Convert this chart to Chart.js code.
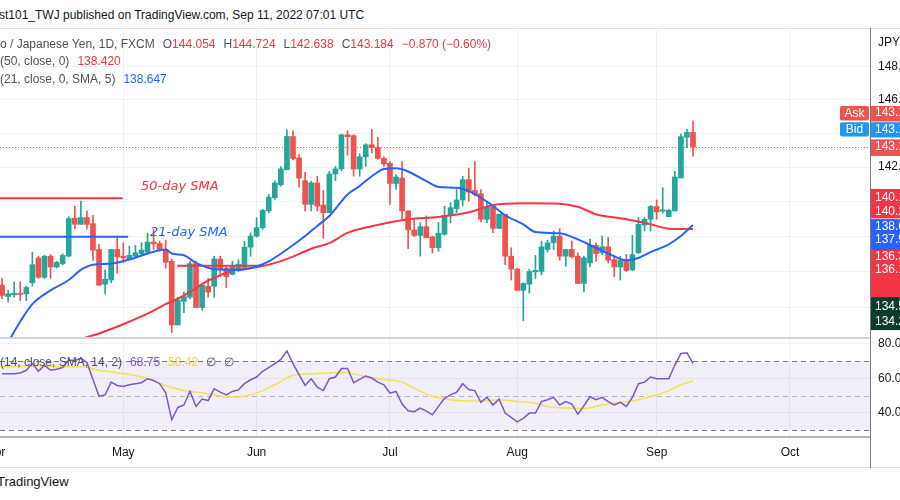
<!DOCTYPE html>
<html>
<head>
<meta charset="utf-8">
<title>USD/JPY 1D</title>
<script src="https://cdn.jsdelivr.net/npm/chart.js@4.4.1/dist/chart.umd.min.js"></script>
<style>
html, body { margin: 0; padding: 0; background: #fff; }
body { position: relative; width: 900px; height: 500px; overflow: hidden; font-family: "Liberation Sans", Arial, sans-serif; }
canvas { position: absolute; left: 0; }
#price { top: 30px; }
#osc { top: 329px; }
.t { position: absolute; white-space: nowrap; font-size: 12px; line-height: 16px; color: #50535e; }
.ln { position: absolute; }
.k { margin-left: 8px; }
.red { color: #f23645; }
.blue { color: #2962ff; }
.purple { color: #7e57c2; }
.yellow { color: #f5d130; }
.note { position: absolute; white-space: nowrap; font-family: "DejaVu Sans", sans-serif; font-size: 13px; line-height: 18px; font-style: italic; }
</style>
</head>
<body>

<canvas id="price" width="900" height="307"></canvas>
<canvas id="osc" width="900" height="140"></canvas>

<div class="t" style="left:-1px;top:7px;color:#131722;font-size:12px">st101_TWJ published on TradingView.com, Sep 11, 2022 07:01 UTC</div>
<div class="ln" style="left:0;top:28px;width:900px;height:1px;background:#e0e3eb"></div>
<div class="ln" style="left:0;top:337px;width:870px;height:2px;background:#d1d4dc"></div>
<div class="ln" style="left:0;top:436px;width:870px;height:2px;background:#b2b5be"></div>
<div class="ln" style="left:0;top:467px;width:900px;height:1px;background:#e0e3eb"></div>
<div class="ln" style="left:870px;top:28px;width:1px;height:440px;background:#787b86"></div>

<div class="t" id="lg1" style="left:0;top:36px"></div>
<div class="t" id="lg2" style="left:0;top:53px"></div>
<div class="t" id="lg3" style="left:0;top:71px"></div>
<div class="t" id="lg4" style="left:0;top:354px"></div>
<div class="t" style="left:878px;top:34px;color:#131722">JPY</div>

<div class="note red" style="left:141px;top:177px">50-day SMA</div>
<div class="note blue" style="left:150px;top:223px">21-day SMA</div>

<div class="t" style="left:-3px;top:474px;color:#131722;font-size:13px">TradingView</div>

<script>
'use strict'

// daily candles, bar 1 = Apr 4 2022 ... bar 115 = Sep 9 2022 (bar 0 = Apr 1)
var firstBar = 1;

var opens = [
    135.25, 134.62, 134.72, 134.81, 134.77, 135.39, 136.78, 135.69, 136.88, 136.27,
    136.46, 136.88, 139.04, 138.69, 139.08, 138.73, 137.26, 135.31, 135.54, 137.26,
    136.88, 136.74, 136.88, 137.03, 137.11, 137.68, 137.60, 137.26, 136.59, 133.05,
    134.35, 134.58, 136.46, 134.01, 135.19, 135.19, 136.72, 136.21, 135.86, 136.11,
    136.24, 137.39, 138.02, 138.50, 139.46, 140.22, 140.98, 141.85, 143.81, 142.55,
    141.21, 139.84, 141.08, 139.80, 139.36, 141.60, 141.90, 143.91, 143.86, 141.89,
    142.61, 143.32, 143.15, 142.52, 142.23, 141.05, 141.37, 139.46, 138.37, 138.06,
    138.56, 137.97, 137.36, 138.12, 139.21, 139.59, 140.09, 141.27, 140.64, 140.45,
    138.98, 139.71, 138.46, 139.27, 136.88, 136.15, 134.96, 135.31, 136.00, 136.02,
    137.26, 137.64, 138.02, 136.88, 137.26, 136.88, 135.35, 136.50, 137.49, 137.07,
    137.41, 136.69, 136.27, 136.65, 136.11, 137.07, 138.65, 138.98, 139.71, 139.44,
    139.13, 139.46, 141.37, 143.76, 144.054
];
var highs = [
    135.63, 134.96, 135.44, 135.44, 135.19, 137.10, 136.88, 136.93, 136.97, 136.59,
    137.01, 139.13, 139.74, 140.03, 139.46, 139.21, 137.55, 136.11, 137.26, 137.97,
    137.64, 137.45, 137.49, 137.64, 138.18, 138.40, 137.74, 137.79, 136.72, 134.58,
    134.87, 136.59, 136.59, 135.35, 135.63, 136.88, 136.88, 136.30, 136.59, 136.68,
    137.73, 138.21, 139.07, 139.55, 140.41, 141.21, 142.04, 144.20, 144.14, 142.74,
    141.71, 141.18, 141.46, 140.64, 141.75, 142.04, 143.95, 144.14, 143.91, 142.80,
    143.38, 144.24, 143.76, 142.61, 142.33, 141.56, 142.33, 139.46, 139.02, 138.79,
    139.17, 138.02, 138.79, 139.74, 139.94, 140.70, 141.47, 141.94, 142.33, 140.70,
    140.03, 139.84, 139.27, 139.27, 137.35, 136.21, 135.39, 136.15, 136.92, 137.74,
    137.79, 138.31, 138.44, 137.26, 137.74, 137.07, 136.88, 137.87, 137.64, 138.02,
    137.93, 136.88, 136.88, 136.97, 138.06, 139.08, 139.08, 139.78, 140.09, 140.80,
    139.55, 141.75, 143.95, 144.24, 144.724
];
var lows = [
    134.49, 134.30, 134.58, 134.39, 134.39, 135.19, 135.63, 135.63, 135.63, 136.21,
    136.40, 136.84, 138.44, 138.69, 138.41, 136.65, 135.25, 134.77, 135.39, 135.92,
    136.53, 136.69, 136.78, 136.88, 137.07, 137.26, 137.16, 136.21, 132.63, 133.05,
    133.72, 134.49, 134.01, 133.86, 134.58, 134.58, 135.73, 135.12, 135.82, 136.01,
    136.20, 136.87, 137.96, 138.40, 139.36, 140.12, 140.89, 141.85, 142.42, 140.83,
    139.46, 139.46, 139.46, 137.89, 139.36, 141.21, 141.79, 142.71, 141.47, 141.47,
    142.04, 142.84, 142.46, 142.04, 139.84, 140.70, 138.98, 137.30, 137.99, 136.88,
    137.93, 137.07, 137.16, 138.06, 138.79, 139.36, 139.75, 140.03, 140.32, 138.83,
    138.79, 138.22, 138.44, 136.40, 135.54, 134.96, 133.28, 134.81, 135.63, 135.83,
    137.11, 137.26, 136.65, 136.30, 136.78, 135.35, 134.87, 136.27, 136.59, 136.97,
    136.50, 135.73, 135.54, 136.02, 136.07, 137.03, 138.31, 138.31, 138.98, 139.33,
    139.13, 139.46, 141.37, 143.15, 142.638
];
var closes = [
    134.68, 134.77, 134.81, 134.74, 135.12, 136.40, 135.69, 136.88, 136.27, 136.53,
    136.92, 139.02, 138.69, 139.08, 138.69, 137.22, 135.25, 135.58, 137.26, 136.84,
    136.78, 136.93, 137.07, 137.22, 137.68, 137.58, 137.26, 136.53, 133.05, 134.43,
    134.62, 136.46, 134.01, 135.25, 134.87, 136.72, 136.15, 135.73, 136.30, 136.43,
    137.39, 138.02, 138.50, 139.49, 140.26, 141.08, 141.90, 143.81, 142.51, 141.37,
    139.84, 141.08, 139.74, 139.36, 141.60, 141.90, 143.91, 143.80, 141.89, 142.61,
    143.32, 143.15, 142.52, 142.19, 141.05, 141.43, 139.46, 138.37, 138.06, 138.56,
    137.93, 137.36, 138.18, 139.21, 139.65, 140.09, 141.27, 140.55, 140.41, 138.98,
    139.71, 138.46, 139.27, 136.88, 136.15, 134.96, 135.35, 136.02, 136.08, 137.41,
    137.64, 138.02, 136.88, 137.26, 136.84, 135.35, 136.78, 137.49, 137.03, 137.41,
    136.65, 136.27, 136.65, 136.07, 136.97, 138.69, 138.98, 139.71, 139.40, 139.52,
    139.50, 141.43, 143.80, 144.054, 143.184
];

// moving averages (bar, value)
var sma50Bars = [12, 13, 17, 21, 25, 28, 30, 32, 35, 39, 42, 44, 47, 50, 52, 55, 58, 62, 68, 73, 78, 80, 82, 87, 93, 96, 99, 104, 108, 111, 115];
var sma50 = [131.9, 132.14, 132.58, 133.09, 133.67, 134.2, 134.5, 134.87, 135.5, 136.05, 136.2, 136.32, 136.6, 137.0, 137.3, 137.62, 138.2, 138.58, 138.98, 139.11, 139.38, 139.59, 139.8, 139.9, 139.88, 139.7, 139.27, 138.98, 138.69, 138.44, 138.42];
var sma21Bars = [2, 4, 6, 9, 12, 14, 16, 19, 22, 24, 27, 28, 29, 31, 33, 36, 40, 43, 45, 48, 51, 53, 55, 58, 60, 62, 64, 66, 68, 71, 73, 76, 78, 80, 82, 84, 87, 89, 93, 96, 99, 101, 104, 106, 108, 111, 113, 115];
var sma21 = [132.1, 133.24, 134.2, 134.96, 135.54, 136.11, 136.4, 136.46, 136.69, 136.92, 137.22, 137.26, 137.03, 136.93, 136.5, 136.15, 136.11, 136.3, 136.59, 137.26, 138.02, 138.6, 139.17, 140.41, 140.9, 141.47, 141.89, 141.94, 141.75, 141.18, 140.85, 140.8, 140.6, 140.22, 139.75, 139.21, 138.69, 138.25, 138.18, 137.83, 137.35, 137.03, 136.65, 136.78, 137.11, 137.55, 138.02, 138.647];

// hand drawn horizontal lines (bar range, price)
var line50Bars = [0.66, 20.9];
var line50Price = 140.19;
var line21Bars = [0.66, 21.8];
var line21Price = 137.98;
var supportBars = [29.9, 43.6];
var supportPrice = 136.34;

// RSI(14) per bar from firstBar, and its SMA(14)
var rsi = [
    62.7, 62.7, 62.7, 63.1, 64.7, 68.6, 64.1, 67.6, 64.7, 65.3,
    66.3, 70.6, 70.4, 71.6, 69.2, 59.4, 49.6, 50.4, 57.8, 55.9,
    55.3, 56.3, 56.9, 57.5, 59.8, 58.8, 56.9, 51.6, 35.9, 43.1,
    44.5, 52.4, 43.7, 48.0, 47.1, 53.9, 52.0, 50.4, 52.4, 53.3,
    56.9, 59.2, 60.8, 64.1, 66.3, 68.6, 71.0, 75.9, 68.6, 62.2,
    55.9, 59.8, 54.9, 52.9, 59.8, 60.8, 65.7, 65.7, 57.5, 59.4,
    61.4, 60.2, 57.8, 56.3, 51.4, 52.4, 45.1, 41.2, 40.6, 42.7,
    41.0, 38.8, 43.7, 48.4, 50.4, 52.0, 56.9, 53.5, 52.9, 46.1,
    49.0, 44.5, 48.0, 39.8, 37.3, 34.7, 36.7, 39.8, 39.8, 46.5,
    47.6, 49.0, 44.5, 46.5, 45.1, 39.2, 44.1, 49.4, 47.6, 49.0,
    46.5, 44.5, 46.1, 43.7, 49.0, 56.9, 57.8, 60.8, 59.8, 59.8,
    59.8, 67.6, 74.5, 74.9, 68.75
];
var rsiMaBars = [1, 6, 12, 14, 17, 22, 25, 28, 31, 34, 36, 39, 41, 44, 46, 49, 52, 56, 58, 60, 61, 64, 67, 69, 72, 75, 78, 80, 83, 86, 89, 91, 94, 97, 100, 102, 105, 108, 111, 113, 115];
var rsiMa = [66.7, 67.3, 66.7, 66.7, 64.7, 62.2, 59.8, 55.9, 52.9, 51.6, 50.4, 49.0, 49.6, 52.9, 56.3, 61.8, 62.7, 63.3, 63.3, 61.8, 60.8, 59.4, 57.8, 54.3, 49.6, 47.5, 46.9, 46.9, 47.6, 46.5, 45.5, 43.7, 42.7, 42.5, 44.5, 45.7, 46.9, 49.4, 52.9, 56.3, 58.42];

// axes
var months = ['Apr', 'May', 'Jun', 'Jul', 'Aug', 'Sep', 'Oct'];
var monthBars = [0, 21, 43, 65, 86, 109, 131];
var priceTicks = [134, 136, 138, 140, 142, 144, 146, 148];
var rsiTicks = [40, 60, 80];
var rsiLevels = [70, 50, 30];

// price tags on the right axis
var tagPrices = [145.21, 144.2, 143.184, 140.21, 139.41, 138.55, 137.8, 136.85, 136.1, 134.06, 133.23];
var tagTexts = ['143.198', '143.184', '143.184', '140.190', '140.236', '138.647', '137.980', '136.340', '136.104', '134.552', '134.210'];
var tagBoxHi = [145.63, 144.66, 143.64, 140.73, 138.99, 137.23, 134.59];
var tagBoxLo = [144.70, 143.75, 142.66, 139.03, 137.23, 134.59, 132.77];
var tagBoxColors = ['#ef5350', '#2196f3', '#ef5350', '#f23645', '#2962ff', '#f23645', '#0e3b2e'];


var UP = '#26a69a';
var DOWN = '#ef5350';
var GRID = '#eef1f6';
var xMin = 0.66;
var xMax = 144.2;

Chart.defaults.font.family = '"Liberation Sans", Arial, sans-serif';
Chart.defaults.font.size = 12;
Chart.defaults.color = '#131722';

function pts(bars, vals) {
    return bars.map(function (b, k) { return { x: b, y: vals[k] }; });
}

var candleColors = closes.map(function (c, k) { return c >= opens[k] ? UP : DOWN; });
var wickData = highs.map(function (h, k) { return { x: firstBar + k, y: [lows[k], h] }; });
var bodyData = opens.map(function (o, k) { return { x: firstBar + k, y: [o, closes[k]] }; });
var rsiData = rsi.map(function (v, k) { return { x: firstBar + k, y: v }; });

function noPad(s) {
    s.paddingLeft = 0;
    s.paddingRight = 0;
    s.paddingTop = 0;
    s.paddingBottom = 0;
}

function monthTicks(s) {
    s.ticks = monthBars.map(function (v) { return { value: v }; });
}

var priceExtras = {
    id: 'priceExtras',
    beforeDatasetsDraw: function (chart) {
        var ctx = chart.ctx;
        var a = chart.chartArea;
        var y = Math.round(chart.scales.y.getPixelForValue(closes[closes.length - 1])) + 0.5;
        ctx.save();
        ctx.strokeStyle = DOWN;
        ctx.lineWidth = 1;
        ctx.setLineDash([1, 2]);
        ctx.beginPath();
        ctx.moveTo(a.left, y);
        ctx.lineTo(a.right, y);
        ctx.stroke();
        ctx.restore();
    },
    afterDraw: function (chart) {
        var ctx = chart.ctx;
        var a = chart.chartArea;
        var ys = chart.scales.y;
        ctx.save();
        tagBoxHi.forEach(function (hi, k) {
            var top = ys.getPixelForValue(hi);
            var bot = ys.getPixelForValue(tagBoxLo[k]);
            ctx.fillStyle = tagBoxColors[k];
            ctx.fillRect(a.right, top, chart.width - a.right, bot - top);
        });
        ctx.font = '12px "Liberation Sans", Arial, sans-serif';
        ctx.fillStyle = '#ffffff';
        ctx.textBaseline = 'middle';
        ctx.textAlign = 'left';
        tagPrices.forEach(function (p, k) {
            ctx.fillText(tagTexts[k], a.right + 5, ys.getPixelForValue(p));
        });

        // Ask / Bid flags left of the axis
        ['Ask', 'Bid'].forEach(function (txt, k) {
            var top = ys.getPixelForValue(tagBoxHi[k]);
            var bot = ys.getPixelForValue(tagBoxLo[k]);
            ctx.fillStyle = tagBoxColors[k];
            ctx.beginPath();
            ctx.roundRect(a.right - 30, top, 29, bot - top - 1, 2);
            ctx.fill();
            ctx.fillStyle = '#ffffff';
            ctx.textAlign = 'center';
            ctx.fillText(txt, a.right - 15.5, (top + bot) / 2);
        });
        ctx.restore();
    }
};

var rsiBand = {
    id: 'rsiBand',
    beforeDatasetsDraw: function (chart) {
        var ctx = chart.ctx;
        var a = chart.chartArea;
        var ys = chart.scales.y;
        var top = ys.getPixelForValue(rsiLevels[0]);
        var bot = ys.getPixelForValue(rsiLevels[2]);
        ctx.save();
        ctx.fillStyle = 'rgba(126, 87, 194, 0.1)';
        ctx.fillRect(a.left, top, a.right - a.left, bot - top);
        ctx.lineWidth = 1;
        ctx.setLineDash([5, 4]);
        rsiLevels.forEach(function (lv, k) {
            var y = Math.round(ys.getPixelForValue(lv)) + 0.5;
            ctx.strokeStyle = k === 1 ? 'rgba(120, 123, 134, 0.5)' : '#787b86';
            ctx.beginPath();
            ctx.moveTo(a.left, y);
            ctx.lineTo(a.right, y);
            ctx.stroke();
        });
        ctx.restore();
    }
};


var ctxP = document.getElementById('price').getContext('2d');
var priceChart = new Chart(ctxP, {
    type: 'bar',
    data: {
        datasets: [{
            type: 'line',
            data: pts(sma21Bars, sma21),
            borderColor: '#2962ff',
            borderWidth: 2,
            pointRadius: 0,
            cubicInterpolationMode: 'monotone',
            order: 0
        }, {
            type: 'line',
            data: pts(sma50Bars, sma50),
            borderColor: '#f23645',
            borderWidth: 2,
            pointRadius: 0,
            cubicInterpolationMode: 'monotone',
            order: 0
        }, {
            type: 'line',
            data: pts(line50Bars, [line50Price, line50Price]),
            borderColor: '#f23645',
            borderWidth: 2,
            pointRadius: 0,
            order: 0
        }, {
            type: 'line',
            data: pts(line21Bars, [line21Price, line21Price]),
            borderColor: '#2962ff',
            borderWidth: 2,
            pointRadius: 0,
            order: 0
        }, {
            type: 'line',
            data: pts(supportBars, [supportPrice, supportPrice]),
            borderColor: '#f23645',
            borderWidth: 2,
            pointRadius: 0,
            order: 0
        }, {
            data: bodyData,
            backgroundColor: candleColors,
            barThickness: 5,
            minBarLength: 1,
            grouped: false,
            order: 1
        }, {
            data: wickData,
            backgroundColor: candleColors,
            barThickness: 1,
            grouped: false,
            order: 2
        }]
    },
    options: {
        responsive: false,
        animation: false,
        events: [],
        layout: { padding: 0 },
        plugins: {
            legend: { display: false },
            tooltip: { enabled: false }
        },
        scales: {
            x: {
                type: 'linear',
                offset: false,
                min: xMin,
                max: xMax,
                bounds: 'data',
                afterBuildTicks: monthTicks,
                ticks: { display: false },
                grid: { color: GRID, drawTicks: false, offset: false },
                border: { display: false },
                afterFit: function (s) { noPad(s); s.height = 0; }
            },
            y: {
                type: 'logarithmic',
                position: 'right',
                min: 132.39,
                max: 150.27,
                bounds: 'data',
                afterBuildTicks: function (s) { s.ticks = priceTicks.map(function (v) { return { value: v }; }); },
                ticks: {
                    padding: 8,
                    callback: function (v) { return Number(v).toFixed(3); }
                },
                grid: { color: GRID, drawTicks: false },
                border: { display: false },
                afterFit: function (s) { noPad(s); s.width = 30; }
            }
        }
    },
    plugins: [priceExtras]
});


var ctxO = document.getElementById('osc').getContext('2d');
var oscChart = new Chart(ctxO, {
    type: 'line',
    data: {
        datasets: [{
            data: rsiData,
            borderColor: '#7e57c2',
            borderWidth: 1.5,
            pointRadius: 0,
            order: 0
        }, {
            data: pts(rsiMaBars, rsiMa),
            borderColor: '#f5e050',
            borderWidth: 1.5,
            pointRadius: 0,
            cubicInterpolationMode: 'monotone',
            order: 1
        }]
    },
    options: {
        responsive: false,
        animation: false,
        events: [],
        layout: { padding: { top: 10 } },
        plugins: {
            legend: { display: false },
            tooltip: { enabled: false }
        },
        scales: {
            x: {
                type: 'linear',
                offset: false,
                min: xMin,
                max: xMax,
                bounds: 'data',
                afterBuildTicks: monthTicks,
                ticks: {
                    autoSkip: false,
                    maxRotation: 0,
                    padding: 8,
                    callback: function (v) { return months[monthBars.indexOf(v)]; }
                },
                grid: { color: GRID, drawTicks: false },
                border: { display: false },
                afterFit: function (s) { noPad(s); s.height = 32; }
            },
            y: {
                type: 'linear',
                position: 'right',
                min: 25.9,
                max: 82.9,
                bounds: 'data',
                afterBuildTicks: function (s) { s.ticks = rsiTicks.map(function (v) { return { value: v }; }); },
                ticks: {
                    padding: 8,
                    callback: function (v) { return Number(v).toFixed(2); }
                },
                grid: { color: GRID, drawTicks: false },
                border: { display: false },
                afterFit: function (s) { noPad(s); s.width = 30; }
            }
        }
    },
    plugins: [rsiBand]
});


// legends
var n = closes.length - 1;
var chg = closes[n] - closes[n - 1];
function minus(v, d) { return (v < 0 ? '\u2212' : '') + Math.abs(v).toFixed(d); }

document.getElementById('lg1').innerHTML = 'o / Japanese Yen, 1D, FXCM' +
    '<span class="k">O</span><span class="red">' + opens[n].toFixed(3) + '</span>' +
    '<span class="k">H</span><span class="red">' + highs[n].toFixed(3) + '</span>' +
    '<span class="k">L</span><span class="red">' + lows[n].toFixed(3) + '</span>' +
    '<span class="k">C</span><span class="red">' + closes[n].toFixed(3) + '</span>' +
    '<span class="k red">' + minus(chg, 3) + ' (' + minus(chg / closes[n - 1] * 100, 2) + '%)</span>';
document.getElementById('lg2').innerHTML = '(50, close, 0)<span class="k red">' + sma50[sma50.length - 1].toFixed(3) + '</span>';
document.getElementById('lg3').innerHTML = '(21, close, 0, SMA, 5)<span class="k blue">' + sma21[sma21.length - 1].toFixed(3) + '</span>';
document.getElementById('lg4').innerHTML = '(14, close, SMA, 14, 2)<span class="k purple">' + rsi[rsi.length - 1].toFixed(2) + '</span>' +
    '<span class="k yellow">' + rsiMa[rsiMa.length - 1].toFixed(2) + '</span>' +
    '<span class="k">\u2205</span><span class="k">\u2205</span>';
</script>
</body>
</html>
